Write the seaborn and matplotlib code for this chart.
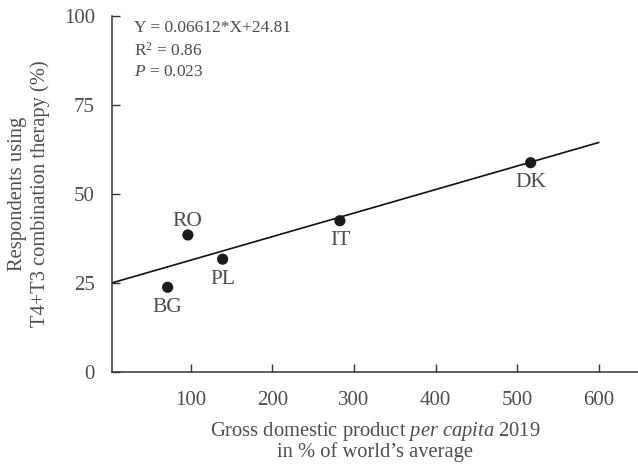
import seaborn as sns
import matplotlib.pyplot as plt
import numpy as np
import pandas as pd

# data
countries = ['BG', 'RO', 'PL', 'IT', 'DK']
gdp_pct = [71.6, 96.4, 139.0, 282.7, 516.4]
t4t3_pct = [23.8, 38.5, 31.7, 42.5, 58.8]
label_side = ['below', 'above', 'below', 'below', 'below']

slope = 0.06612
intercept = 24.81
fit_range = [3, 600]

x_ticks = [100, 200, 300, 400, 500, 600]
y_ticks = [0, 25, 50, 75, 100]

df = pd.DataFrame({'country': countries, 'gdp': gdp_pct, 'combo': t4t3_pct, 'side': label_side})

sns.set_style('ticks')
plt.rcParams['font.family'] = ['Liberation Serif', 'DejaVu Serif']
plt.rcParams['mathtext.fontset'] = 'custom'
plt.rcParams['mathtext.rm'] = 'Liberation Serif'
plt.rcParams['mathtext.it'] = 'Liberation Serif:italic'
plt.rcParams['xtick.direction'] = 'in'
plt.rcParams['ytick.direction'] = 'in'

text_col = '#4d4d4d'
axis_col = '#333333'

fig = plt.figure(figsize=(6.38, 4.67), dpi=100)
ax = fig.add_axes([0.175, 0.2034, 0.825, 0.7623])

# regression line
fit_x = np.array(fit_range, dtype=float)
fit_y = slope * fit_x + intercept
sns.lineplot(x=fit_x, y=fit_y, ax=ax, color='#111111', linewidth=1.2)

sns.scatterplot(data=df, x='gdp', y='combo', ax=ax, color='#1a1a1a', s=65,
                edgecolor='none', zorder=3)

for _, row in df.iterrows():
    dy = 3 if row['side'] == 'above' else -7.5
    va = 'bottom' if row['side'] == 'above' else 'top'
    ax.annotate(row['country'], (row['gdp'], row['combo']), xytext=(0, dy),
                textcoords='offset points', ha='center', va=va,
                fontsize=15.5, color=text_col)

ax.text(0.043, 0.99, 'Y = 0.06612*X+24.81\nR$^2$ = 0.86\n$\\mathit{P}$ = 0.023',
        transform=ax.transAxes, ha='left', va='top', fontsize=12.5,
        color=text_col, linespacing=1.42)

ax.set_xlim(3, 648)
ax.set_ylim(0, 100)
ax.set_xticks(x_ticks)
ax.set_yticks(y_ticks)
ax.tick_params(axis='x', direction='in', length=6, width=1, colors=axis_col,
               labelcolor=text_col, labelsize=15, pad=14)
ax.tick_params(axis='y', direction='in', length=6, width=1, colors=axis_col,
               labelcolor=text_col, labelsize=15, pad=12)
sns.despine(ax=ax)
for s in ['left', 'bottom']:
    ax.spines[s].set_color(axis_col)
    ax.spines[s].set_linewidth(1.1)

ax.set_xlabel('Gross domestic product $\\mathit{per\\ capita}$ 2019\nin % of world\u2019s average',
              fontsize=14.8, color=text_col, labelpad=7, linespacing=0.95)
ax.set_ylabel('Respondents using\nT4+T3 combination therapy (%)',
              fontsize=14.8, color=text_col, labelpad=10, linespacing=1.2)

fig.savefig('out.png', dpi=100)
